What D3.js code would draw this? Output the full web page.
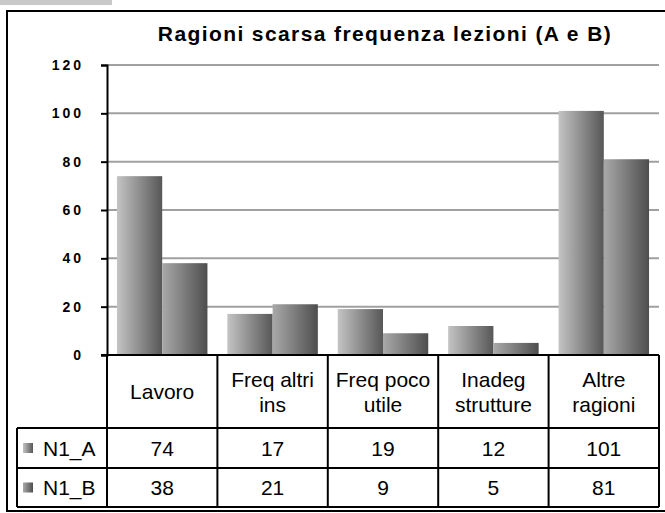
<!DOCTYPE html>
<html>
<head>
<meta charset="utf-8">
<script src="https://cdn.jsdelivr.net/npm/d3@7"></script>
<style>
  body { margin: 0; background: #fff; }
  text { font-family: "Liberation Sans", Arial, sans-serif; }
</style>
</head>
<body>
<div id="chart"></div>
<script>
// data
const categories = [["Lavoro"], ["Freq altri", "ins"], ["Freq poco", "utile"], ["Inadeg", "strutture"], ["Altre", "ragioni"]];
const seriesNames = ["N1_A", "N1_B"];
const valuesA = [74, 17, 19, 12, 101];
const valuesB = [38, 21, 9, 5, 81];
const yTicks = [0, 20, 40, 60, 80, 100, 120];

const W = 665, H = 513;
const plot = { left: 107, right: 659, top: 65, bottom: 355 };

const svg = d3.select("#chart").append("svg")
    .attr("width", W).attr("height", H);

// gradients for the bars
const defs = svg.append("defs");
const grads = [["gA", "#c4c4c4", "#575757"], ["gB", "#a9a9a9", "#4e4e4e"]];
grads.forEach(([id, c1, c2]) => {
    const g = defs.append("linearGradient").attr("id", id)
        .attr("x1", "0%").attr("x2", "100%").attr("y1", "0%").attr("y2", "0%");
    g.append("stop").attr("offset", "0%").attr("stop-color", c1);
    g.append("stop").attr("offset", "100%").attr("stop-color", c2);
});

// little gray strip in the corner
svg.append("rect").attr("x", 0).attr("y", 0).attr("width", 112).attr("height", 5).attr("fill", "#c8c8c8");

// outer frame
svg.append("rect").attr("x", 7).attr("y", 11).attr("width", 670).attr("height", 500)
    .attr("fill", "none").attr("stroke", "#000").attr("stroke-width", 2);

// title
svg.append("text")
    .attr("x", 385).attr("y", 41)
    .attr("text-anchor", "middle")
    .attr("font-size", 21).attr("font-weight", "bold")
    .attr("letter-spacing", 1.4)
    .text("Ragioni scarsa frequenza lezioni (A e B)");

// scales
const x = d3.scaleBand().domain(d3.range(categories.length))
    .range([plot.left, plot.right]);
const x1 = d3.scaleBand().domain([0, 1]).range([0, x.bandwidth()]).paddingOuter(0.22);
const y = d3.scaleLinear().domain([0, 120]).range([plot.bottom, plot.top]);

// gridlines
svg.append("g").selectAll("line").data(yTicks.filter(d => d > 0)).join("line")
    .attr("x1", plot.left).attr("x2", plot.right)
    .attr("y1", d => y(d)).attr("y2", d => y(d))
    .attr("stroke", "#a0a0a0").attr("stroke-width", 2);

// bars
const series = [valuesA, valuesB];
series.forEach((vals, s) => {
    svg.append("g").selectAll("rect").data(vals).join("rect")
        .attr("x", (d, i) => x(i) + x1(s))
        .attr("width", x1.bandwidth())
        .attr("y", d => y(d))
        .attr("height", d => y(0) - y(d))
        .attr("fill", `url(#${grads[s][0]})`);
});

// y axis
const yAxis = svg.append("g")
    .attr("transform", `translate(${plot.left},0)`)
    .call(d3.axisLeft(y).tickValues(yTicks).tickSize(6).tickPadding(17));
yAxis.select(".domain").attr("stroke-width", 2);
yAxis.selectAll(".tick line").attr("stroke-width", 2);
yAxis.selectAll(".tick text")
    .attr("font-size", 14).attr("font-weight", "bold")
    .attr("letter-spacing", 3)
    .attr("font-family", "Liberation Sans, Arial, sans-serif")
    .attr("fill", "#000");

// data table
const rows = [plot.bottom, 428, 468, 507];
const tableLeft = 17;
const tbl = svg.append("g").attr("stroke", "#000").attr("stroke-width", 2);
tbl.append("line").attr("x1", plot.left - 6).attr("x2", plot.right).attr("y1", rows[0]).attr("y2", rows[0]);
rows.slice(1).forEach(r => {
    tbl.append("line").attr("x1", tableLeft).attr("x2", plot.right).attr("y1", r).attr("y2", r);
});
d3.range(categories.length + 1).forEach(i => {
    const xx = i < categories.length ? x(i) : plot.right;
    tbl.append("line").attr("x1", xx).attr("x2", xx).attr("y1", rows[0]).attr("y2", rows[3]);
});
tbl.append("line").attr("x1", tableLeft).attr("x2", tableLeft).attr("y1", rows[1]).attr("y2", rows[3]);

// header labels
categories.forEach((lines, i) => {
    const cx = x(i) + x.bandwidth() / 2;
    const midY = (rows[0] + rows[1]) / 2;
    const lh = 25;
    const t = svg.append("text").attr("text-anchor", "middle").attr("font-size", 21);
    lines.forEach((ln, k) => {
        t.append("tspan").attr("x", cx)
            .attr("y", midY + 7.5 + (k - (lines.length - 1) / 2) * lh)
            .text(ln);
    });
});

// value rows
series.forEach((vals, s) => {
    const midY = (rows[s + 1] + rows[s + 2]) / 2;
    svg.append("g").selectAll("text").data(vals).join("text")
        .attr("x", (d, i) => x(i) + x.bandwidth() / 2)
        .attr("y", midY + 7.5)
        .attr("text-anchor", "middle").attr("font-size", 21)
        .text(d => d);
    // legend key
    svg.append("rect").attr("x", 23).attr("y", midY - 5).attr("width", 10).attr("height", 10)
        .attr("fill", `url(#${grads[s][0]})`);
    svg.append("text").attr("x", 43).attr("y", midY + 7.5)
        .attr("font-size", 21).text(seriesNames[s]);
});
</script>
</body>
</html>
